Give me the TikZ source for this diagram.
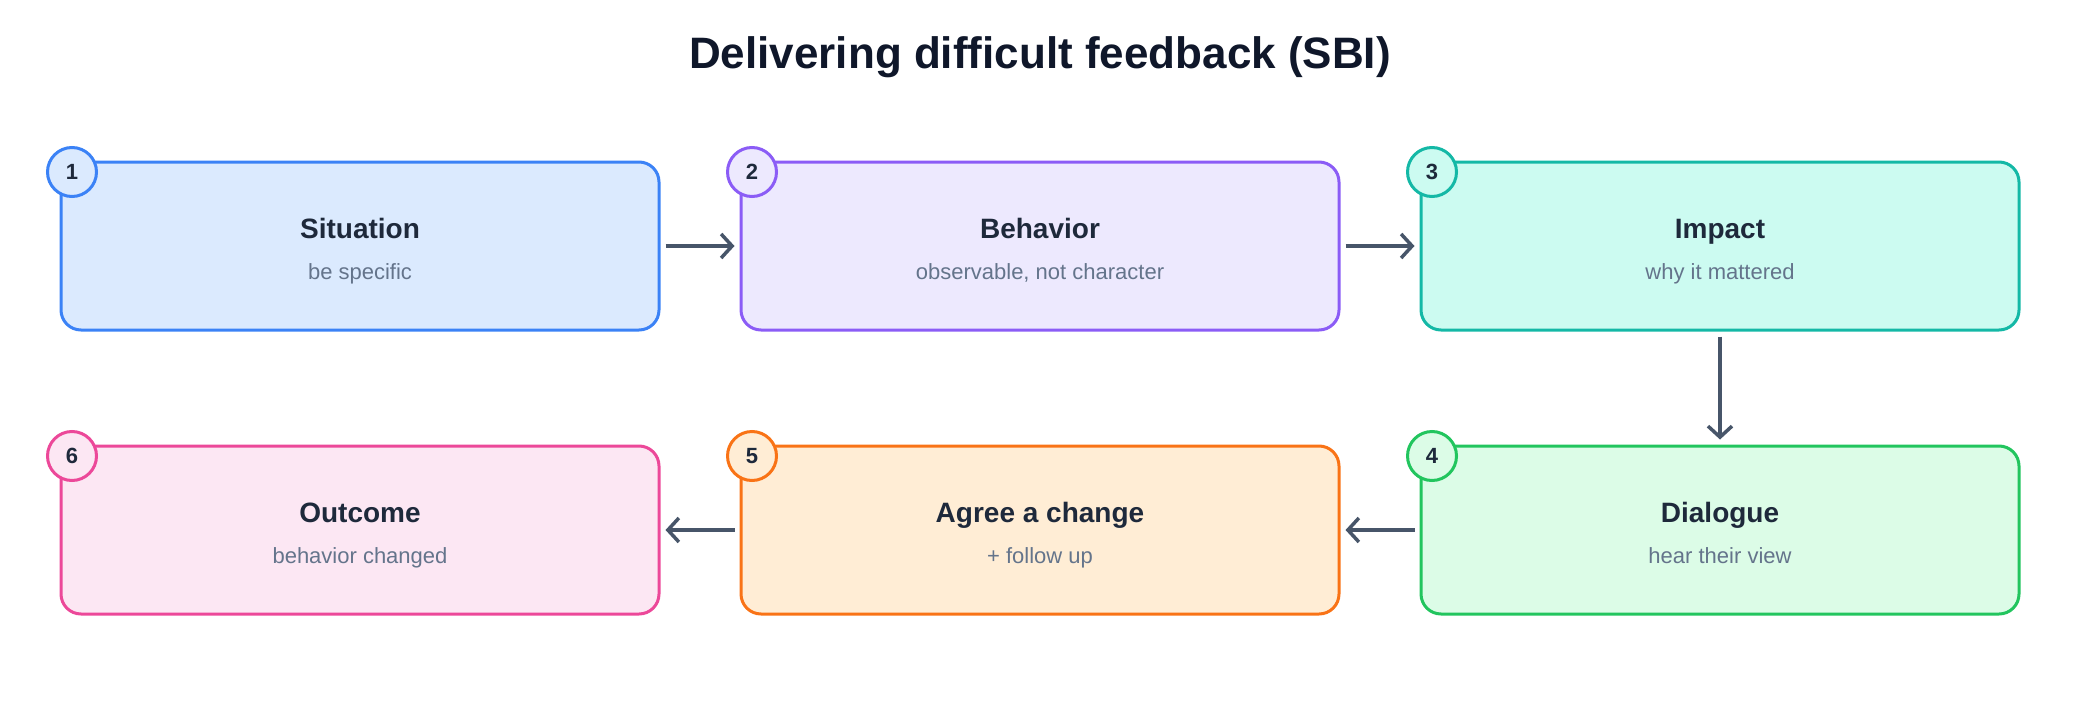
\documentclass[tikz,border=0pt]{standalone}
\usepackage{fontspec}
\setmainfont{Liberation Sans}
\usetikzlibrary{arrows.meta}
\definecolor{titlecol}{HTML}{0F172A}
\definecolor{headcol}{HTML}{1E293B}
\definecolor{subcol}{HTML}{64748B}
\definecolor{arrcol}{HTML}{475569}
\definecolor{bdA}{HTML}{3B82F6}\definecolor{bgA}{HTML}{DBEAFE}
\definecolor{bdB}{HTML}{8B5CF6}\definecolor{bgB}{HTML}{EDE9FE}
\definecolor{bdC}{HTML}{14B8A6}\definecolor{bgC}{HTML}{CCFBF1}
\definecolor{bdD}{HTML}{22C55E}\definecolor{bgD}{HTML}{DCFCE7}
\definecolor{bdE}{HTML}{F97316}\definecolor{bgE}{HTML}{FFEDD5}
\definecolor{bdF}{HTML}{EC4899}\definecolor{bgF}{HTML}{FCE7F3}
\tikzset{
  stepbox/.style={draw, line width=3pt, rounded corners=20pt, minimum width=598pt, minimum height=168pt, inner sep=0pt},
  numdisc/.style={circle, draw, line width=3pt, minimum size=49pt, inner sep=0pt, font=\fontsize{22}{26}\selectfont\bfseries, text=headcol},
  headtxt/.style={font=\fontsize{28}{34}\selectfont\bfseries, text=headcol, inner sep=0pt, anchor=base},
  subtxt/.style={font=\fontsize{22}{26}\selectfont, text=subcol, inner sep=0pt, anchor=base},
  arr/.style={draw=arrcol, line width=3.5pt, -{Straight Barb[length=11pt,width=24pt,line width=3.5pt]}, shorten <=5pt, shorten >=5pt}
}
\begin{document}
\begin{tikzpicture}[x=1pt,y=-1pt]
\useasboundingbox (0,0) rectangle (2080,704);
\node[font=\fontsize{44}{52}\selectfont\bfseries, text=titlecol, anchor=base, inner sep=0pt] (title) at (1040,68) {Delivering difficult feedback (SBI)};
% boxes
\node[stepbox, draw=bdA, fill=bgA] (b1) at (360,246) {};
\node[stepbox, draw=bdB, fill=bgB] (b2) at (1040,246) {};
\node[stepbox, draw=bdC, fill=bgC] (b3) at (1720,246) {};
\node[stepbox, draw=bdD, fill=bgD] (b4) at (1720,530) {};
\node[stepbox, draw=bdE, fill=bgE] (b5) at (1040,530) {};
\node[stepbox, draw=bdF, fill=bgF] (b6) at (360,530) {};
% texts
\node[headtxt] (h1) at (360,238) {Situation};
\node[subtxt]  (s1) at (360,279) {be specific};
\node[headtxt] (h2) at (1040,238) {Behavior};
\node[subtxt]  (s2) at (1040,279) {observable, not character};
\node[headtxt] (h3) at (1720,238) {Impact};
\node[subtxt]  (s3) at (1720,279) {why it mattered};
\node[headtxt] (h4) at (1720,522) {Dialogue};
\node[subtxt]  (s4) at (1720,563) {hear their view};
\node[headtxt] (h5) at (1040,522) {Agree a change};
\node[subtxt]  (s5) at (1040,563) {+ follow up};
\node[headtxt] (h6) at (360,522) {Outcome};
\node[subtxt]  (s6) at (360,563) {behavior changed};
% number discs
\node[numdisc, draw=bdA, fill=bgA] (c1) at (72,172) {1};
\node[numdisc, draw=bdB, fill=bgB] (c2) at (752,172) {2};
\node[numdisc, draw=bdC, fill=bgC] (c3) at (1432,172) {3};
\node[numdisc, draw=bdD, fill=bgD] (c4) at (1432,456) {4};
\node[numdisc, draw=bdE, fill=bgE] (c5) at (752,456) {5};
\node[numdisc, draw=bdF, fill=bgF] (c6) at (72,456) {6};
% connectors
\draw[arr] (b1) -- (b2);
\draw[arr] (b2) -- (b3);
\draw[arr] (b3) -- (b4);
\draw[arr] (b4) -- (b5);
\draw[arr] (b5) -- (b6);
\end{tikzpicture}
\end{document}
